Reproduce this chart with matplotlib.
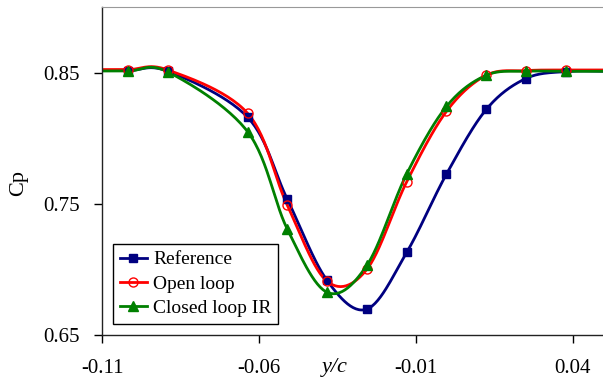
import numpy as np
import matplotlib
matplotlib.use("Agg")
import matplotlib.pyplot as plt
import matplotlib.transforms as mtransforms

plt.rcParams['font.family'] = ['Liberation Serif', 'DejaVu Serif']

# y/c stations (markers) plus the unmarked end points the curves run out to
y_c = [-0.1144, -0.1017, -0.0890, -0.0636, -0.0510, -0.0383, -0.0256,
       -0.0129, -0.0002, 0.0125, 0.0251, 0.0378, 0.0505]

cp_reference = [0.8515, 0.8515, 0.8510, 0.8160, 0.7538, 0.6917, 0.6697,
                0.7129, 0.7727, 0.8220, 0.8455, 0.8508, 0.8510]
cp_open_loop = [0.8523, 0.8523, 0.8520, 0.8190, 0.7492, 0.6910, 0.7000,
                0.7667, 0.8205, 0.8480, 0.8515, 0.8520, 0.8520]
cp_closed_ir = [0.8512, 0.8512, 0.8505, 0.8050, 0.7310, 0.6826, 0.7030,
                0.7727, 0.8242, 0.8480, 0.8510, 0.8510, 0.8510]

series_names = ['Reference', 'Open loop', 'Closed loop IR']
x_ticks = [-0.11, -0.06, -0.01, 0.04]
y_ticks = [0.65, 0.75, 0.85]


def smooth(x, y, n=30):
    # excel style smoothed line: cubic bezier, control points from neighbours
    p = np.column_stack([x, y])
    p = np.vstack([p[0], p, p[-1]])
    out = []
    for i in range(1, len(p) - 2):
        p0, p1, p2, p3 = p[i - 1], p[i], p[i + 1], p[i + 2]
        c1 = p1 + (p2 - p0) / 6.0
        c2 = p2 - (p3 - p1) / 6.0
        t = np.linspace(0, 1, n)[:, None]
        seg = ((1 - t) ** 3) * p1 + 3 * ((1 - t) ** 2) * t * c1 + 3 * (1 - t) * t ** 2 * c2 + t ** 3 * p2
        out.append(seg if i == 1 else seg[1:])
    out = np.vstack(out)
    return out[:, 0], out[:, 1]


fig = plt.figure(figsize=(6.03, 3.83), dpi=100)
ax = fig.add_axes([102 / 603, 48 / 383, 502 / 603, 328 / 383])

styles = [
    dict(color='#000080', marker='s', ms=5.5, mfc='#000080', mec='#000080'),
    dict(color='#FF0000', marker='o', ms=6.5, mfc='none', mec='#FF0000', mew=1.0),
    dict(color='#008000', marker='^', ms=7.5, mfc='#008000', mec='#008000'),
]
data = [cp_reference, cp_open_loop, cp_closed_ir]

for vals, name, st in zip(data, series_names, styles):
    xs, ys = smooth(y_c, vals)
    ax.plot(xs, ys, color=st['color'], lw=2.0, zorder=2)
for vals, name, st in zip(data, series_names, styles):
    ax.plot(y_c[1:-1], vals[1:-1], ls='none', marker=st['marker'], ms=st['ms'],
            mfc=st['mfc'], mec=st['mec'], mew=st.get('mew', 1.0), zorder=3)
    # legend proxy
    ax.plot([], [], color=st['color'], lw=2.0, marker=st['marker'], ms=st['ms'],
            mfc=st['mfc'], mec=st['mec'], mew=st.get('mew', 1.0), label=name)

ax.set_xlim(-0.11, 0.05)
ax.set_ylim(0.65, 0.90)
ax.set_xticks(x_ticks)
ax.set_xticklabels(['%.2f' % v for v in x_ticks])
ax.set_yticks(y_ticks)
ax.set_yticklabels(['%.2f' % v for v in y_ticks])
ax.tick_params(axis='both', direction='out', length=6, width=1.0, labelsize=15)
ax.tick_params(axis='y', pad=10)
ax.tick_params(axis='x', pad=11)

ax.spines['right'].set_visible(False)
ax.spines['top'].set_color('#999999')
ax.spines['left'].set_color('#222222')
ax.spines['bottom'].set_color('#222222')
ax.spines['left'].set_linewidth(1.0)
ax.spines['bottom'].set_linewidth(1.0)

trans = mtransforms.blended_transform_factory(ax.transData, ax.transAxes)
ax.text(-0.0358, -0.10, 'y/c', transform=trans, fontsize=16, style='italic',
        ha='center', va='center')
fig.text(19 / 603, 1 - 183 / 383, 'Cp', rotation=90, fontsize=16,
         ha='center', va='center')

leg = ax.legend(loc='lower left', bbox_to_anchor=(0.022, 0.0335), borderaxespad=0,
                fontsize=14, fancybox=False, framealpha=1, edgecolor='black',
                handlelength=1.4, handletextpad=0.3, labelspacing=0.35,
                borderpad=0.35)
leg.get_frame().set_linewidth(1.0)

fig.savefig('out.png', dpi=100)
